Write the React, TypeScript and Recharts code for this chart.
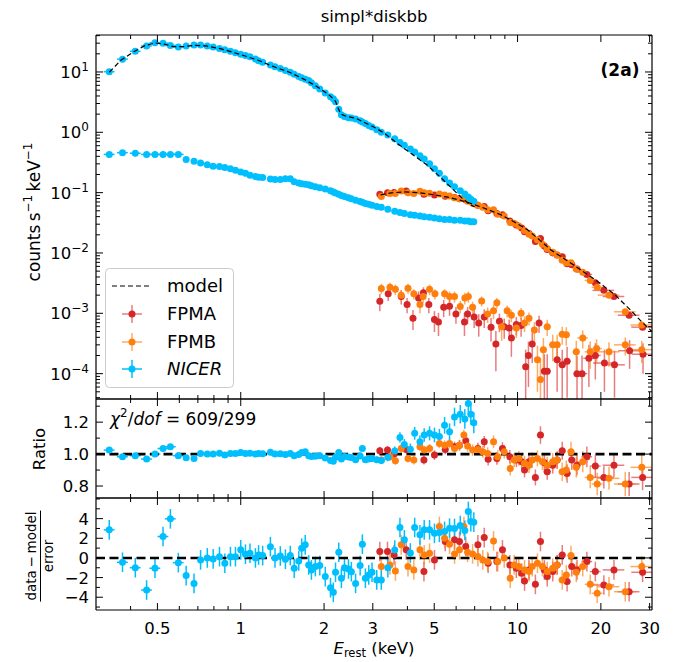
import React from "react";
import { ComposedChart, Scatter, XAxis, YAxis, ErrorBar, ReferenceLine } from "recharts";

const FONT = "'DejaVu Sans', Verdana, sans-serif";
const RED = "#d62728";
const ORANGE = "#ff7f0e";
const BLUE = "#00bfff";
const RED_BAR = "rgba(214,39,40,0.6)";
const ORANGE_BAR = "rgba(255,127,14,0.65)";

// ---- NICER (source, background, ratio, residuals) ----
const nicerE = [0.335, 0.374, 0.416, 0.457, 0.49, 0.524, 0.557, 0.595, 0.635, 0.678, 0.716, 0.757, 0.795, 0.838, 0.876, 0.918, 0.957, 1.0, 1.04, 1.08, 1.13, 1.16, 1.2, 1.28, 1.33, 1.39, 1.45, 1.51, 1.56, 1.62, 1.66, 1.71, 1.76, 1.8, 1.86, 1.93, 2.02, 2.11, 2.16, 2.2, 2.26, 2.31, 2.37, 2.45, 2.51, 2.6, 2.7, 2.75, 2.82, 2.9, 2.98, 3.1, 3.22, 3.4, 3.6, 3.76, 3.9, 4.1, 4.25, 4.44, 4.6, 4.81, 5.01, 5.22, 5.45, 5.68, 5.92, 6.21, 6.45, 6.64, 6.78, 6.95];
const nicerRate = [10.1, 16.3, 22, 27, 30.5, 30, 27.5, 26, 27, 27.9, 27.9, 27, 26, 24.5, 23.4, 22, 20.8, 19.6, 18.7, 17.8, 16.4, 15.4, 14.5, 13, 12.2, 11.4, 10.6, 9.9, 9.2, 8.4, 8.0, 7.6, 7.2, 6.6, 5.9, 5.2, 4.5, 3.9, 3.6, 3.2, 2.4, 1.95, 1.82, 1.75, 1.72, 1.66, 1.55, 1.48, 1.4, 1.3, 1.22, 1.1, 1.0, 0.9, 0.78, 0.68, 0.61, 0.53, 0.47, 0.41, 0.36, 0.3, 0.25, 0.21, 0.17, 0.145, 0.125, 0.108, 0.095, 0.085, 0.078, 0.072];
const nicerBkg = [0.43, 0.46, 0.45, 0.43, 0.43, 0.43, 0.43, 0.43, 0.355, 0.33, 0.31, 0.29, 0.275, 0.27, 0.26, 0.25, 0.235, 0.22, 0.21, 0.195, 0.185, 0.18, 0.178, 0.168, 0.165, 0.165, 0.17, 0.17, 0.152, 0.145, 0.14, 0.138, 0.135, 0.13, 0.125, 0.12, 0.115, 0.107, 0.102, 0.099, 0.094, 0.09, 0.086, 0.082, 0.079, 0.075, 0.071, 0.069, 0.066, 0.064, 0.062, 0.059, 0.057, 0.053, 0.049, 0.047, 0.045, 0.043, 0.042, 0.041, 0.04, 0.039, 0.038, 0.037, 0.036, 0.036, 0.035, 0.035, 0.034, 0.034, 0.033, 0.033];
const nicerRatio = [1.025, 0.983, 0.99, 0.969, 1.0, 1.035, 1.046, 0.99, 0.977, 0.973, 1.004, 1.0, 1.0, 1.006, 0.995, 1.004, 1.004, 1.01, 1.004, 1.006, 1.0, 1.003, 1.002, 1.012, 1.0, 1.002, 0.998, 1.003, 0.99, 0.997, 1.01, 1.015, 0.99, 0.985, 0.987, 0.99, 0.975, 0.96, 0.955, 0.98, 1.01, 0.97, 0.985, 0.982, 0.978, 0.965, 0.988, 1.035, 0.965, 0.97, 0.972, 0.965, 0.96, 0.98, 1.02, 1.104, 1.06, 1.03, 1.13, 1.077, 1.12, 1.13, 1.12, 1.11, 1.18, 1.14, 1.233, 1.25, 1.22, 1.317, 1.25, 1.196];
const nicerRatioErr = [0.01, 0.012, 0.01, 0.009, 0.01, 0.012, 0.012, 0.01, 0.012, 0.012, 0.012, 0.012, 0.012, 0.012, 0.012, 0.012, 0.012, 0.012, 0.012, 0.012, 0.012, 0.012, 0.012, 0.012, 0.012, 0.012, 0.012, 0.012, 0.012, 0.012, 0.012, 0.012, 0.014, 0.014, 0.014, 0.014, 0.014, 0.014, 0.014, 0.014, 0.015, 0.015, 0.015, 0.016, 0.016, 0.016, 0.017, 0.018, 0.018, 0.018, 0.019, 0.02, 0.02, 0.025, 0.028, 0.032, 0.034, 0.036, 0.04, 0.04, 0.042, 0.044, 0.046, 0.048, 0.052, 0.052, 0.058, 0.058, 0.062, 0.062, 0.066, 0.066];
const nicerChi = [2.86, -0.44, -0.99, -3.27, -1.05, 2.18, 3.98, -0.48, -1.8, -2.59, -0.2, 0, -0.1, 0.13, -0.54, 0.13, 0.13, 0.82, 0.38, 0.48, 0, 0.3, 0.24, 1.15, 0, 0.2, -0.13, 0.24, -1.05, -0.3, 0.99, 1.33, -0.71, -1.22, -0.88, -0.78, -1.9, -3.03, -3.5, -1.46, 0.58, -2.07, -0.99, -1.12, -1.4, -2.59, -0.78, 1.4, -2.07, -1.73, -1.46, -2.24, -2.24, -1.0, 0.8, 3.1, 1.84, 0.5, 3.1, 2.35, 2.86, 2.86, 2.5, 2.6, 2.7, 3.03, 3.0, 3.3, 2.8, 4.73, 3.7, 3.64];

// ---- FPMA ----
const fpmaE = [3.18, 3.39, 3.58, 3.96, 4.59, 5.01, 5.48, 5.92, 6.17, 6.5, 7.19, 7.58, 7.83, 8.42, 8.82, 9.38, 9.9, 10.35, 10.6, 11.0, 11.6, 12.1, 12.5, 12.8, 13.4, 13.9, 14.5, 15.1, 15.7, 16.4, 17.8, 19.1, 20.5, 22.3, 25.3, 28.3];
const fpmaRate = [0.094, 0.1, 0.101, 0.106, 0.094, 0.091, 0.087, 0.083, 0.079, 0.076, 0.062, 0.059, 0.05, 0.045, 0.043, 0.034, 0.029, 0.026, 0.0225, 0.021, 0.0155, 0.0174, 0.0131, 0.0114, 0.01, 0.0093, 0.0087, 0.0066, 0.0064, 0.0054, 0.0044, 0.0032, 0.0024, 0.0019, 0.00093, 0.00059];
const fpmaRatio = [1.021, 1.025, 1.0, 1.029, 0.9625, 0.994, 1.029, 1.046, 1.056, 1.083, 1.035, 1.077, 0.967, 0.973, 1.035, 0.983, 0.9625, 0.952, 0.9, 0.952, 0.854, 1.119, 0.946, 0.89, 0.93, 0.9625, 1.021, 0.879, 0.9625, 0.93, 0.983, 0.925, 0.854, 0.93, 0.8125, 0.854];
const fpmaRatioErr = [0.025, 0.025, 0.025, 0.026, 0.028, 0.03, 0.03, 0.032, 0.033, 0.034, 0.036, 0.037, 0.038, 0.04, 0.04, 0.042, 0.044, 0.045, 0.046, 0.048, 0.05, 0.055, 0.05, 0.05, 0.052, 0.054, 0.056, 0.058, 0.06, 0.062, 0.065, 0.068, 0.07, 0.072, 0.075, 0.08];
const fpmaChi = [0.65, 0.65, 0.31, 0.82, -1.39, -0.2, 1.67, 1.84, 1.67, 1.16, 1.33, 2.07, -0.54, -0.37, 0.82, -0.71, -1.05, -1.56, -2.35, -1.22, -2.69, 1.67, -1.22, -1.9, -1.39, -0.71, 0.31, -2.41, -0.88, -1.22, -0.37, -1.39, -2.76, -1.22, -3.44, -1.46];
const fpmaBkgE = [3.18, 3.41, 3.8, 3.99, 4.19, 4.39, 4.57, 4.78, 5.01, 5.18, 5.41, 5.68, 5.99, 6.43, 6.6, 6.97, 7.24, 7.58, 8.02, 8.35, 8.6, 8.95, 9.33, 9.5, 9.9, 10.3, 10.7, 10.95, 11.3, 11.96, 12.5, 12.8, 13.9, 14.5, 15.1, 16.4, 17.1, 18.1, 19.1, 20.6, 22.4, 25.4, 28.4];
const fpmaBkg = [0.00158, 0.0021, 0.0019, 0.0014, 0.00083, 0.0018, 0.0022, 0.0014, 0.00079, 0.00072, 0.00126, 0.00131, 0.00097, 0.00072, 0.00097, 0.00087, 0.00069, 0.00087, 0.00059, 0.00031, 0.00074, 0.0006, 0.00057, 0.00039, 0.00065, 0.00063, 0.00013, 0.0002, 0.00031, 0.00069, 0.00011, 0.00011, 0.00017, 0.00014, 0.00016, 0.0001, 0.0001, 0.00018, 0.0002, 0.00015, 0.00014, 0.00024, 0.00021];
const fpmaBkgErr = [0.0005, 0.0005, 0.0005, 0.0004, 0.0003, 0.0005, 0.0005, 0.0004, 0.0003, 0.0003, 0.0004, 0.0004, 0.0003, 0.0003, 0.0003, 0.0003, 0.00028, 0.0003, 0.00025, 0.0002, 0.00025, 0.00022, 0.00022, 0.0002, 0.00022, 0.00022, 0.00012, 0.00014, 0.00016, 0.00022, 0.0001, 0.0001, 0.00012, 0.00011, 0.00012, 0.0001, 0.0001, 0.00012, 0.00012, 0.0001, 0.0001, 0.00012, 0.00011];

// ---- FPMB ----
const fpmbE = [3.22, 3.46, 3.62, 3.8, 4.02, 4.22, 4.44, 4.6, 4.81, 5.22, 5.45, 5.68, 5.92, 6.17, 6.4, 6.6, 6.88, 7.19, 7.49, 7.8, 8.19, 8.48, 8.95, 9.41, 9.72, 10.1, 10.6, 11.0, 11.3, 11.8, 12.3, 12.8, 13.4, 13.9, 14.5, 15.0, 15.6, 16.3, 17.2, 18.3, 19.4, 21.4, 24.5, 28.1];
const fpmbRate = [0.086, 0.097, 0.097, 0.106, 0.1, 0.097, 0.105, 0.1, 0.098, 0.095, 0.091, 0.088, 0.082, 0.079, 0.08, 0.072, 0.067, 0.062, 0.057, 0.052, 0.052, 0.044, 0.041, 0.032, 0.031, 0.028, 0.0235, 0.0205, 0.0192, 0.0165, 0.0139, 0.0119, 0.0103, 0.0093, 0.0076, 0.0069, 0.0069, 0.0054, 0.0048, 0.0035, 0.0027, 0.002, 0.00106, 0.00064];
const fpmbRatio = [0.9625, 0.983, 0.958, 1.035, 0.973, 0.9625, 1.046, 1.025, 1.035, 1.067, 1.056, 1.067, 1.035, 1.056, 1.119, 1.05, 1.025, 1.029, 1.015, 1.004, 1.077, 0.983, 1.015, 0.91, 0.9625, 0.973, 0.942, 0.93, 0.9625, 0.973, 0.952, 0.93, 0.952, 0.9625, 0.89, 0.9, 1.015, 0.917, 0.952, 0.854, 0.8125, 0.848, 0.8125, 0.917];
const fpmbRatioErr = [0.025, 0.025, 0.025, 0.026, 0.026, 0.027, 0.027, 0.028, 0.028, 0.03, 0.03, 0.031, 0.032, 0.033, 0.034, 0.035, 0.036, 0.037, 0.038, 0.039, 0.04, 0.041, 0.042, 0.044, 0.045, 0.046, 0.047, 0.048, 0.049, 0.05, 0.052, 0.053, 0.054, 0.056, 0.058, 0.06, 0.062, 0.064, 0.066, 0.068, 0.07, 0.072, 0.076, 0.085];
const fpmbChi = [-0.88, -0.71, -1.33, 1.33, -0.88, -1.22, 0.82, 0.31, 0.48, 3.2, 2.0, 1.4, 0.41, 0.82, 3.2, 0.58, 0.41, 0.14, -0.2, -0.37, 1.73, -0.37, 0, -2.07, -0.71, -0.88, -1.22, -1.39, -0.88, -0.54, -0.88, -1.39, -1.05, -0.71, -2.24, -1.73, 0.24, -1.46, -0.88, -2.69, -3.6, -2.93, -3.44, -0.88];
const fpmbBkgE = [3.22, 3.46, 3.62, 3.8, 4.02, 4.22, 4.44, 4.56, 4.81, 5.03, 5.45, 5.68, 5.92, 6.21, 6.45, 6.64, 6.88, 7.42, 7.8, 8.19, 8.42, 8.76, 9.17, 9.5, 9.9, 10.3, 10.6, 11.0, 11.5, 11.8, 12.1, 12.4, 12.8, 13.4, 13.9, 14.5, 15.0, 16.3, 17.2, 18.3, 19.3, 21.4, 24.5, 28.1];
const fpmbBkg = [0.00258, 0.0027, 0.0025, 0.002, 0.0026, 0.0021, 0.0014, 0.0019, 0.0025, 0.0021, 0.0021, 0.0019, 0.0019, 0.0013, 0.0018, 0.0019, 0.00126, 0.0016, 0.00097, 0.0011, 0.0015, 0.0006, 0.0011, 0.00093, 0.00057, 0.001, 0.00069, 0.00083, 0.00053, 0.00017, 0.00008, 0.00025, 0.0006, 0.0003, 0.0003, 0.00045, 0.00044, 0.00023, 0.00039, 0.00023, 0.00026, 0.00023, 0.0003, 0.00025];
const fpmbBkgErr = [0.0005, 0.0005, 0.0005, 0.0004, 0.0005, 0.0004, 0.0004, 0.0004, 0.0005, 0.0004, 0.0004, 0.0004, 0.0004, 0.0003, 0.0004, 0.0004, 0.0003, 0.0003, 0.00028, 0.0003, 0.0003, 0.00025, 0.00025, 0.00022, 0.00018, 0.00022, 0.0002, 0.0002, 0.00018, 0.00012, 0.0001, 0.00014, 0.00018, 0.00014, 0.00014, 0.00015, 0.00015, 0.00012, 0.00013, 0.00011, 0.00011, 0.0001, 0.0001, 0.0001];

// ---- model curves ----
const modelNicerE = [0.335, 0.37, 0.41, 0.45, 0.49, 0.53, 0.57, 0.62, 0.68, 0.75, 0.85, 1.0, 1.15, 1.3, 1.5, 1.7, 1.9, 2.1, 2.2, 2.25, 2.3, 2.4, 2.6, 2.8, 3.0, 3.3, 3.7, 4.2, 4.7, 5.2, 5.7, 6.2, 6.7, 7.0];
const modelNicer = [9.9, 15.8, 21.5, 27.3, 30.3, 29, 26.3, 26.3, 27.7, 27, 24.2, 19.4, 15.8, 12.5, 9.9, 7.5, 5.6, 4.06, 3.27, 2.5, 2.0, 1.85, 1.72, 1.45, 1.25, 0.97, 0.64, 0.42, 0.29, 0.19, 0.127, 0.087, 0.064, 0.058];
const modelFpmE = [3.2, 3.5, 3.9, 4.4, 5.0, 5.6, 6.2, 6.8, 7.6, 8.7, 9.7, 10.9, 12.0, 13.2, 14.3, 15.7, 17.4, 19.4, 22.3, 25.5, 28.1, 30.6];
const modelFpm = [0.092, 0.099, 0.103, 0.1, 0.092, 0.084, 0.075, 0.066, 0.055, 0.043, 0.033, 0.024, 0.0165, 0.0112, 0.0088, 0.0066, 0.0048, 0.0034, 0.0021, 0.00115, 0.00072, 0.0005];

// ---- axes ----
const X_DOMAIN = [0.3, 30.6];
const xMajor = [0.5, 1, 2, 3, 5, 10, 20, 30];
const xMinor = [0.4, 0.6, 0.7, 0.8, 0.9, 4, 6, 7, 8, 9];
const xTicks = [...xMajor, ...xMinor].sort((a, b) => a - b);

const TOP_DOMAIN = [3.8e-5, 41];
const topTicks: number[] = [];
for (let d = -5; d <= 1; d++) {
  for (let m = 1; m <= 9; m++) {
    const v = +(m * Math.pow(10, d)).toPrecision(3);
    if (v >= TOP_DOMAIN[0] && v <= TOP_DOMAIN[1]) topTicks.push(v);
  }
}
const RATIO_DOMAIN = [0.725, 1.345];
const ratioTicks = [0.8, 0.9, 1.0, 1.1, 1.2, 1.3];
const ratioMajor = [0.8, 1.0, 1.2];
const CHI_DOMAIN = [-5.3, 6.1];
const chiTicks = [-5, -4, -3, -2, -1, 0, 1, 2, 3, 4, 5, 6];
const chiMajor = [-4, -2, 0, 2, 4];

const near = (a: number, list: number[]) => list.some((v) => Math.abs(v - a) < 1e-6 * Math.max(1, Math.abs(v)));
const isDecade = (v: number) => Math.abs(Math.log10(v) - Math.round(Math.log10(v))) < 1e-6;
const minus = (s: string) => s.replace("-", "\u2212");

const TICK_FS = 16.5;

const xTick = (side: "bottom" | "top", labels: boolean) => (p: any) => {
  const v = p.payload.value;
  const major = near(v, xMajor);
  const len = major ? 7 : 4;
  const d = side === "bottom" ? -1 : 1;
  return (
    <g>
      <line x1={p.x} x2={p.x} y1={p.y} y2={p.y + d * len} stroke="#000" strokeWidth={1} />
      {labels && major ? (
        <text x={p.x} y={p.y + 24} textAnchor="middle" fontSize={TICK_FS} fontFamily={FONT} fill="#000">
          {String(v)}
        </text>
      ) : null}
    </g>
  );
};

const yTick = (side: "left" | "right", isMajor: (v: number) => boolean, label?: (v: number) => React.ReactNode) => (p: any) => {
  const v = p.payload.value;
  const major = isMajor(v);
  const len = major ? 7 : 4;
  const d = side === "left" ? 1 : -1;
  return (
    <g>
      <line x1={p.x} x2={p.x + d * len} y1={p.y} y2={p.y} stroke="#000" strokeWidth={1} />
      {label && major ? (
        <text x={p.x - 7} y={p.y} dy="0.36em" textAnchor="end" fontSize={TICK_FS} fontFamily={FONT} fill="#000">
          {label(v)}
        </text>
      ) : null}
    </g>
  );
};

const decadeLabel = (v: number) => (
  <>
    10
    <tspan dy={-7} fontSize={12}>
      {minus(String(Math.round(Math.log10(v))))}
    </tspan>
  </>
);

// axes are 1px thick so that recharts still draws them; margins below make up the pixel
function frame(yDomain: number[], yScale: "log" | "linear", yTicks: number[], isMajor: (v: number) => boolean, label: (v: number) => React.ReactNode, xLabels: boolean) {
  const ax = { stroke: "#000", strokeWidth: 1.2 };
  return [
    <XAxis key="xb" dataKey="e" type="number" scale="log" domain={X_DOMAIN} allowDataOverflow ticks={xTicks} interval={0} height={1} tickSize={0} tickMargin={0} tickLine={false} axisLine={ax} tick={xTick("bottom", xLabels)} />,
    <XAxis key="xt" xAxisId="t" orientation="top" dataKey="e" type="number" scale="log" domain={X_DOMAIN} allowDataOverflow ticks={xTicks} interval={0} height={1} tickSize={0} tickMargin={0} tickLine={false} axisLine={ax} tick={xTick("top", false)} />,
    <YAxis key="yl" dataKey="v" type="number" scale={yScale} domain={yDomain} allowDataOverflow ticks={yTicks} interval={0} width={1} tickSize={0} tickMargin={0} tickLine={false} axisLine={ax} tick={yTick("left", isMajor, label)} />,
    <YAxis key="yr" yAxisId="r" orientation="right" dataKey="v" type="number" scale={yScale} domain={yDomain} allowDataOverflow ticks={yTicks} interval={0} width={1} tickSize={0} tickMargin={0} tickLine={false} axisLine={ax} tick={yTick("right", isMajor)} />,
  ];
}
const M = (top: number, bottom: number) => ({ top: top - 1, right: 27, bottom: bottom - 1, left: 95 });

// ---- rows for the library ----
// error bars are cut at the panel edges (the bars are not clipped by the chart itself)
type Row = { e: number; v: number; ex: number[]; ey?: number[] };
const binHalf = (e: number, nicer: boolean) =>
  nicer ? e * (e < 0.6 ? 0.045 : 0.016) : e * (e < 12 ? 0.02 : e < 17 ? 0.03 : e < 20 ? 0.045 : 0.09);
const cut = (v: number, lo: number, hi: number, dom: number[]) => [Math.max(0, Math.min(lo, v - dom[0])), Math.max(0, Math.min(hi, dom[1] - v))];
const xe = (e: number, nicer: boolean) => cut(e, binHalf(e, nicer), binHalf(e, nicer), X_DOMAIN);

const nicerSrcRows: Row[] = nicerE.map((e, i) => ({ e, v: nicerRate[i], ex: xe(e, true) }));
const nicerBkgRows: Row[] = nicerE.map((e, i) => ({ e, v: nicerBkg[i], ex: xe(e, true) }));
const fpmaSrcRows: Row[] = fpmaE.map((e, i) => ({ e, v: fpmaRate[i], ex: xe(e, false) }));
const fpmbSrcRows: Row[] = fpmbE.map((e, i) => ({ e, v: fpmbRate[i], ex: xe(e, false) }));
const fpmaBkgRows: Row[] = fpmaBkgE.map((e, i) => ({ e, v: fpmaBkg[i], ex: xe(e, false), ey: cut(fpmaBkg[i], fpmaBkgErr[i], fpmaBkgErr[i], TOP_DOMAIN) }));
const fpmbBkgRows: Row[] = fpmbBkgE.map((e, i) => ({ e, v: fpmbBkg[i], ex: xe(e, false), ey: cut(fpmbBkg[i], fpmbBkgErr[i], fpmbBkgErr[i], TOP_DOMAIN) }));

const resRows = (es: number[], vs: number[], errs: number[] | null, nicer: boolean, dom: number[]): Row[] =>
  es.map((e, i) => {
    const err = errs ? errs[i] : 1;
    return { e, v: vs[i], ex: xe(e, nicer), ey: cut(vs[i], err, err, dom) };
  });
const nicerRatioRows = resRows(nicerE, nicerRatio, nicerRatioErr, true, RATIO_DOMAIN);
const fpmaRatioRows = resRows(fpmaE, fpmaRatio, fpmaRatioErr, false, RATIO_DOMAIN);
const fpmbRatioRows = resRows(fpmbE, fpmbRatio, fpmbRatioErr, false, RATIO_DOMAIN);
const nicerChiRows = resRows(nicerE, nicerChi, null, true, CHI_DOMAIN);
const fpmaChiRows = resRows(fpmaE, fpmaChi, null, false, CHI_DOMAIN);
const fpmbChiRows = resRows(fpmbE, fpmbChi, null, false, CHI_DOMAIN);

const modelNicerRows = modelNicerE.map((e, i) => ({ e, v: modelNicer[i] }));
const modelFpmRows = modelFpmE.map((e, i) => ({ e, v: modelFpm[i] }));

const dot = (fill: string) => (p: any) =>
  p.cx == null || p.cy == null || isNaN(p.cx) || isNaN(p.cy) ? <g /> : <circle cx={p.cx} cy={p.cy} r={3.5} fill={fill} />;
const noDot = () => <g />;

function series(key: string, rows: Row[], color: string, bar: string, withY: boolean) {
  return (
    <Scatter key={key} data={rows} dataKey="v" fill={color} shape={dot(color)} isAnimationActive={false}>
      <ErrorBar dataKey="ex" direction="x" width={0} stroke={bar} strokeWidth={1.5} />
      {withY ? <ErrorBar dataKey="ey" direction="y" width={0} stroke={bar} strokeWidth={1.5} /> : null}
    </Scatter>
  );
}

// model drawn as a joined scatter so it sits on top of the data points
function model(key: string, rows: { e: number; v: number }[]) {
  return (
    <Scatter
      key={key}
      data={rows}
      dataKey="v"
      shape={noDot}
      line={{ stroke: "#000", strokeWidth: 1.2, strokeDasharray: "5 3", fill: "none" }}
      lineJointType="linear"
      isAnimationActive={false}
    />
  );
}

const text: React.CSSProperties = { position: "absolute", fontFamily: FONT, color: "#000", whiteSpace: "nowrap", lineHeight: 1 };

function LegendBox() {
  const entry = (y: number, color: string, bar: string) => (
    <g>
      <line x1={17} x2={37} y1={y} y2={y} stroke={bar} strokeWidth={1.5} />
      <line x1={27} x2={27} y1={y - 9} y2={y + 9} stroke={bar} strokeWidth={1.5} />
      <circle cx={27} cy={y} r={3.5} fill={color} />
    </g>
  );
  const lab = (y: number, s: string, italic = false) => (
    <text x={62} y={y} dy="0.36em" fontSize={18} fontFamily={FONT} fontStyle={italic ? "italic" : "normal"} fill="#000">
      {s}
    </text>
  );
  return (
    <svg width={130} height={121} style={{ position: "absolute", left: 105, top: 268 }}>
      <rect x={0.5} y={0.5} width={128} height={119} rx={4} fill="rgba(255,255,255,0.8)" stroke="#cccccc" />
      <line x1={7} x2={46} y1={18} y2={18} stroke="#000" strokeWidth={1.2} strokeDasharray="5 3" />
      {lab(18, "model")}
      {entry(46, RED, RED_BAR)}
      {lab(46, "FPMA")}
      {entry(74, ORANGE, ORANGE_BAR)}
      {lab(74, "FPMB")}
      {entry(101, BLUE, BLUE)}
      {lab(101, "NICER", true)}
    </svg>
  );
}

export default function App() {
  return (
    <div style={{ position: "absolute", left: 0, top: 0, width: 680, height: 662, background: "#fff" }}>
      <div style={{ position: "absolute", left: 0, top: 0 }}>
        <ComposedChart width={680} height={409} margin={M(35, 10)}>
          {frame(TOP_DOMAIN, "log", topTicks, isDecade, decadeLabel, false)}
          {series("fab", fpmaBkgRows, RED, RED_BAR, true)}
          {series("fas", fpmaSrcRows, RED, RED_BAR, false)}
          {series("fbb", fpmbBkgRows, ORANGE, ORANGE_BAR, true)}
          {series("fbs", fpmbSrcRows, ORANGE, ORANGE_BAR, false)}
          {series("ns", nicerSrcRows, BLUE, BLUE, false)}
          {series("nb", nicerBkgRows, BLUE, BLUE, false)}
          {model("mn", modelNicerRows)}
          {model("mf", modelFpmRows)}
        </ComposedChart>
      </div>
      <div style={{ position: "absolute", left: 0, top: 389 }}>
        <ComposedChart width={680} height={119} margin={M(10, 10)}>
          {frame(RATIO_DOMAIN, "linear", ratioTicks, (v) => near(v, ratioMajor), (v) => v.toFixed(1), false)}
          {series("far", fpmaRatioRows, RED, RED_BAR, true)}
          {series("fbr", fpmbRatioRows, ORANGE, ORANGE_BAR, true)}
          {series("nr", nicerRatioRows, BLUE, BLUE, true)}
          <ReferenceLine y={1} stroke="#000" strokeWidth={2.6} strokeDasharray="9 4.5" />
        </ComposedChart>
      </div>
      <div style={{ position: "absolute", left: 0, top: 488 }}>
        <ComposedChart width={680} height={174} margin={M(10, 52)}>
          {frame(CHI_DOMAIN, "linear", chiTicks, (v) => near(v, chiMajor), (v) => minus(String(v)), true)}
          {series("fac", fpmaChiRows, RED, RED_BAR, true)}
          {series("fbc", fpmbChiRows, ORANGE, ORANGE_BAR, true)}
          {series("nc", nicerChiRows, BLUE, BLUE, true)}
          <ReferenceLine y={0} stroke="#000" strokeWidth={2.6} strokeDasharray="9 4.5" />
        </ComposedChart>
      </div>

      <div style={{ ...text, left: 374, top: 17, transform: "translate(-50%,-50%)", fontSize: 16.5 }}>simpl*diskbb</div>
      <div style={{ ...text, left: 620, top: 70, transform: "translate(-50%,-50%)", fontSize: 17, fontWeight: "bold" }}>(2a)</div>
      <div style={{ ...text, left: 33, top: 212, transform: "translate(-50%,-50%) rotate(-90deg)", fontSize: 17 }}>
        counts&thinsp;s<span style={{ fontSize: "0.7em", verticalAlign: "0.6em" }}>{"\u22121"}</span>&thinsp;keV
        <span style={{ fontSize: "0.7em", verticalAlign: "0.6em" }}>{"\u22121"}</span>
      </div>
      <div style={{ ...text, left: 40, top: 449, transform: "translate(-50%,-50%) rotate(-90deg)", fontSize: 16.5 }}>Ratio</div>
      <div style={{ ...text, left: 40, top: 556, transform: "translate(-50%,-50%) rotate(-90deg)", fontSize: 13.5, display: "flex", flexDirection: "column", alignItems: "center" }}>
        <span style={{ borderBottom: "1.3px solid #000", padding: "0 1px 1px" }}>data{"\u2009\u2212\u2009"}model</span>
        <span style={{ paddingTop: 1 }}>error</span>
      </div>
      <div style={{ ...text, left: 110, top: 418, transform: "translateY(-50%)", fontSize: 17 }}>
        <i>χ</i>
        <span style={{ fontSize: "0.7em", verticalAlign: "0.6em" }}>2</span>/<i>dof</i> = 609/299
      </div>
      <div style={{ ...text, left: 374, top: 650, transform: "translate(-50%,-50%)", fontSize: 16.5 }}>
        <i>E</i>
        <span style={{ fontSize: "0.7em", verticalAlign: "-0.3em" }}>rest</span> (keV)
      </div>
      <LegendBox />
    </div>
  );
}
